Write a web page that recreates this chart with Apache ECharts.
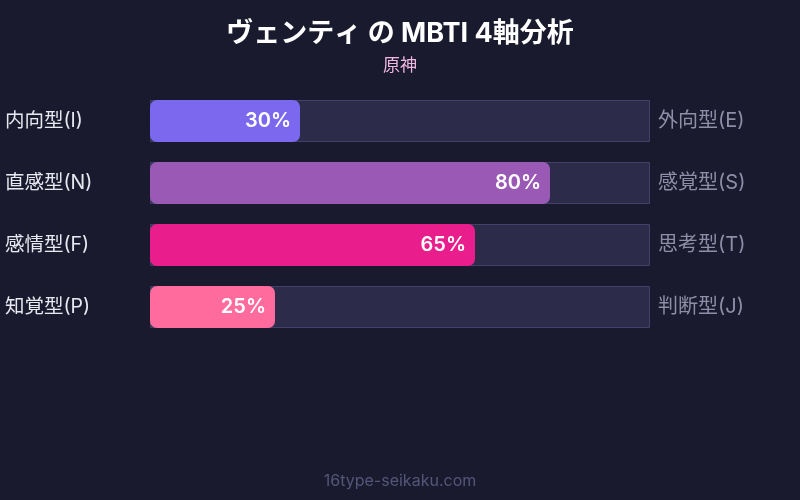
<!DOCTYPE html>
<html><head><meta charset="utf-8">
<script src="https://cdn.jsdelivr.net/npm/echarts@6/dist/echarts.min.js"></script>
<style>html,body{margin:0;padding:0;background:#1a1a2e;}#c{width:800px;height:500px;}</style>
</head><body><div id="c"></div>
<script>
const leftLabels = ['内向型(I)', '直感型(N)', '感情型(F)', '知覚型(P)'];
const rightLabels = ['外向型(E)', '感覚型(S)', '思考型(T)', '判断型(J)'];
const values = [30, 80, 65, 25];
const colors = ['#7b68ee', '#9b59b6', '#e91e8c', '#ff6b9d'];
const trackMax = [100, 100, 100, 100];

const FONT = 'Inter, "Noto Sans CJK JP", sans-serif';
const chart = echarts.init(document.getElementById('c'));
chart.setOption({
  backgroundColor: '#1a1a2e',
  title: [{
    text: 'ヴェンティ の MBTI 4軸分析',
    subtext: '原神',
    left: 'center', top: 15, itemGap: 10,
    textStyle: { color: '#ffffff', fontSize: 27, fontWeight: 'bold', fontFamily: FONT },
    subtextStyle: { color: '#f0b8e0', fontSize: 17, fontFamily: FONT }
  }, {
    text: '16type-seikaku.com',
    left: 'center', bottom: 6,
    textStyle: { color: '#55557a', fontSize: 16, fontWeight: 'normal', fontFamily: FONT }
  }],
  grid: { left: 150, right: 150, top: 90, bottom: 162 },
  xAxis: { type: 'value', min: 0, max: 100, show: false },
  yAxis: [{
    type: 'category', inverse: true, data: leftLabels,
    axisLine: { show: false }, axisTick: { show: false },
    axisLabel: { color: '#e8e8f0', fontSize: 19.5, fontFamily: FONT, align: 'left', margin: 145 }
  }, {
    type: 'category', inverse: true, data: rightLabels, position: 'right',
    axisLine: { show: false }, axisTick: { show: false },
    axisLabel: { color: '#8e8ea8', fontSize: 20, fontFamily: FONT, align: 'left', margin: 8 }
  }],
  series: [{
    type: 'bar', data: trackMax, barWidth: 42, barGap: '-100%', silent: true,
    itemStyle: { color: '#2d2b4a', borderColor: '#41416a', borderWidth: 1 },
    animation: false
  }, {
    type: 'bar', barWidth: 42,
    data: values.map((v, i) => ({ value: v, itemStyle: { color: colors[i] } })),
    itemStyle: { borderRadius: 7 },
    label: { show: true, position: 'insideRight', distance: 9, formatter: '{c}%', color: '#ffffff', fontSize: 20, fontWeight: 600, fontFamily: FONT },
    animation: false
  }]
});
</script></body></html>
